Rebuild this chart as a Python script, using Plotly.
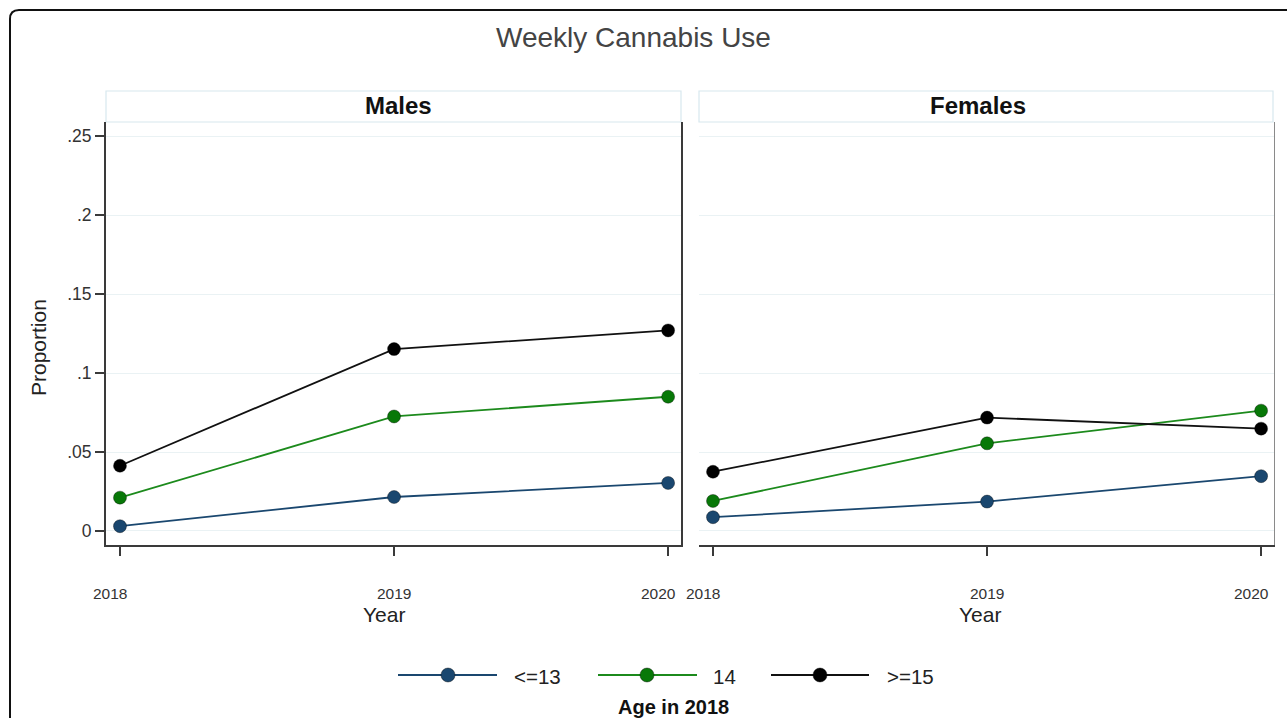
import plotly.graph_objects as go

# ---------------- data ----------------
years = [2018, 2019, 2020]
groups = ["<=13", "14", ">=15"]
males_le13 = [0.003, 0.0215, 0.0304]
males_14 = [0.0211, 0.0725, 0.085]
males_ge15 = [0.0413, 0.1152, 0.127]
females_le13 = [0.0087, 0.0186, 0.0347]
females_14 = [0.019, 0.0555, 0.0762]
females_ge15 = [0.0375, 0.0718, 0.0648]
ytick_vals = [0, 0.05, 0.1, 0.15, 0.2, 0.25]
ytick_text = ["0", ".05", ".1", ".15", ".2", ".25"]
xtick_text = ["2018", "2019", "2020"]
panel_titles = ["Males", "Females"]

colors = {"<=13": "#1a476f", "14": "#1c8a1c", ">=15": "#111111"}
marker_colors = {"<=13": "#1a476f", "14": "#087808", ">=15": "#000000"}

W, H = 1287, 718
def px(x):
    return x / W
def py(y):
    return 1 - y / H

FONT = "Liberation Sans, Arial, sans-serif"

fig = go.Figure()

series = {
    "Males": [males_le13, males_14, males_ge15],
    "Females": [females_le13, females_14, females_ge15],
}
for i, panel in enumerate(panel_titles):
    xa = "x" if i == 0 else "x2"
    ya = "y" if i == 0 else "y2"
    for g, vals in zip(groups, series[panel]):
        fig.add_trace(go.Scatter(
            x=years, y=vals, mode="lines+markers", name=g,
            xaxis=xa, yaxis=ya, showlegend=False,
            line=dict(color=colors[g], width=1.8),
            marker=dict(color=marker_colors[g], size=13,
                        line=dict(color="rgba(0,0,0,0.35)", width=1)),
        ))

yr = [-0.0089, 0.259]
xr = [2017.949, 2020.047]
ydom = [py(545), py(122)]

common_x = dict(range=xr, tickvals=years, showticklabels=False,
                showgrid=False, zeroline=False, showline=True,
                linecolor="#3a3a3a", linewidth=2, ticks="outside", ticklen=9,
                tickcolor="#3a3a3a", tickwidth=1.5)

fig.update_layout(
    width=W, height=H,
    margin=dict(l=0, r=0, t=0, b=0),
    paper_bgcolor="white", plot_bgcolor="white",
    showlegend=False,
    xaxis=dict(domain=[px(106), px(681)], anchor="y", **common_x),
    xaxis2=dict(domain=[px(699), px(1274)], anchor="y2", **common_x),
    yaxis=dict(domain=ydom, range=yr, tickvals=ytick_vals, ticktext=ytick_text,
               showgrid=True, gridcolor="#eaf2f4", gridwidth=1, zeroline=False,
               showline=True, mirror=True, linecolor="#3a3a3a", linewidth=2,
               ticks="outside", ticklen=9, tickcolor="#3a3a3a", tickwidth=1.5,
               tickfont=dict(family=FONT, size=17.5, color="#333333"),
               anchor="x"),
    yaxis2=dict(domain=ydom, range=yr, tickvals=ytick_vals,
                showticklabels=False, ticks="",
                showgrid=True, gridcolor="#eaf2f4", gridwidth=1, zeroline=False,
                showline=True, side="right", linecolor="#8a8a8a", linewidth=1,
                anchor="x2"),
)

shapes = []
annotations = []

# outer rounded frame (right and bottom edges lie outside the image)
r = 9
path = (f"M {px(10)},{py(730)} L {px(10)},{py(10 + r)} "
        f"Q {px(10)},{py(10)} {px(10 + r)},{py(10)} L {px(1300)},{py(10)}")
shapes.append(dict(type="path", xref="paper", yref="paper", path=path,
                   line=dict(color="#111111", width=2)))

# strip headers
for (x0, x1, xc), title in zip([(106, 681, 398), (699, 1273, 978)], panel_titles):
    shapes.append(dict(type="rect", xref="paper", yref="paper",
                       x0=px(x0), x1=px(x1), y0=py(122), y1=py(91),
                       line=dict(color="#d8e8ee", width=1.2),
                       fillcolor="white", layer="below"))
    annotations.append(dict(x=px(xc), y=py(105), xref="paper",
                            yref="paper", text=f"<b>{title}</b>", showarrow=False,
                            font=dict(family=FONT, size=24, color="#111111"),
                            xanchor="center", yanchor="middle"))

# x tick labels (end labels sit slightly left of their ticks, as in the original)
shifts = [-10, 0, -10]
for xa in ("x", "x2"):
    for yv, lab, sh in zip(years, xtick_text, shifts):
        annotations.append(dict(x=yv, y=py(593), xref=xa, yref="paper",
                                text=lab, showarrow=False, xshift=sh,
                                font=dict(family=FONT, size=15.5, color="#333333"),
                                xanchor="center", yanchor="middle"))

# title
annotations.append(dict(x=px(633), y=py(37), xref="paper", yref="paper",
                        text="Weekly Cannabis Use", showarrow=False,
                        font=dict(family=FONT, size=28, color="#444444"),
                        xanchor="center", yanchor="middle"))
# axis titles
for xc in (384, 980):
    annotations.append(dict(x=px(xc), y=py(614), xref="paper", yref="paper",
                            text="Year", showarrow=False,
                            font=dict(family=FONT, size=21, color="#222222"),
                            xanchor="center", yanchor="middle"))
annotations.append(dict(x=px(38), y=py(348), xref="paper", yref="paper",
                        text="Proportion", showarrow=False, textangle=-90,
                        font=dict(family=FONT, size=21, color="#222222"),
                        xanchor="center", yanchor="middle"))

# legend (drawn manually to reproduce long line samples)
leg_items = [(398, 497, 448, 512), (598, 697, 647, 711), (771, 869, 820, 885)]
ly = 675
for g, (lx0, lx1, mx, tx) in zip(groups, leg_items):
    shapes.append(dict(type="line", xref="paper", yref="paper",
                       x0=px(lx0), x1=px(lx1), y0=py(ly), y1=py(ly),
                       line=dict(color=colors[g], width=2)))
    shapes.append(dict(type="circle", xref="paper", yref="paper",
                       xsizemode="pixel", ysizemode="pixel",
                       xanchor=px(mx), yanchor=py(ly),
                       x0=-7, x1=7, y0=-7, y1=7,
                       fillcolor=marker_colors[g],
                       line=dict(color="rgba(0,0,0,0.4)", width=1)))
    annotations.append(dict(x=px(tx), y=py(ly + 1), xref="paper", yref="paper",
                            text=g, showarrow=False,
                            font=dict(family=FONT, size=20.5, color="#222222"),
                            xanchor="left", yanchor="middle"))
annotations.append(dict(x=px(673), y=py(707), xref="paper", yref="paper",
                        text="<b>Age in 2018</b>", showarrow=False,
                        font=dict(family=FONT, size=20, color="#111111"),
                        xanchor="center", yanchor="middle"))

fig.update_layout(shapes=shapes, annotations=annotations)
fig.write_html("out.html")
